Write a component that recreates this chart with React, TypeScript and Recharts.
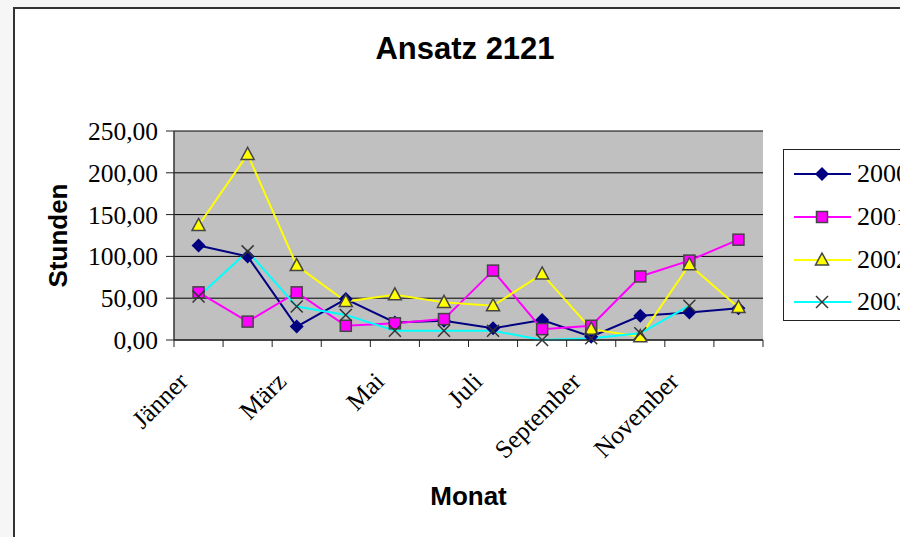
import { CartesianGrid, Line, LineChart, XAxis, YAxis } from "recharts";

const months = [
  "Jänner", "Februar", "März", "April", "Mai", "Juni",
  "Juli", "August", "September", "Oktober", "November", "Dezember",
];
const years = ["2000", "2001", "2002", "2003"];
const h2000 = [113, 100, 16, 49, 21, 23, 14, 24, 4, 29, 33, 38];
const h2001 = [57, 22, 57, 17, 20, 25, 83, 13, 17, 76, 95, 120];
const h2002 = [137, 222, 89, 46, 54, 45, 41, 79, 13, 4, 90, 39];
const h2003 = [52, 106, 40, 30, 11, 11, 11, 0, 2, 8, 41, null];
const yTicks = [0, 50, 100, 150, 200, 250];

const data = months.map((m, i) => ({
  month: m,
  y2000: h2000[i],
  y2001: h2001[i],
  y2002: h2002[i],
  y2003: h2003[i],
}));

// plot box on the page: 174..763 x 131..340
const W = 900;
const H = 537;
const Y_W = 100;
const X_H = 60;
const M = { top: 131, right: W - 763, bottom: H - 340 - X_H, left: 174 - Y_W };
const STEP = (763 - 174) / months.length;
const HALF = STEP / 2;

const SERIF = "'Liberation Serif', 'Times New Roman', serif";
const SANS = "'Liberation Sans', Arial, sans-serif";

const colors = ["#000080", "#ff00ff", "#ffff00", "#00ffff"];

const marker = (k: number, cx: number, cy: number, key?: any) => {
  if (k === 0)
    return (
      <polygon key={key} points={`${cx},${cy - 7} ${cx + 7},${cy} ${cx},${cy + 7} ${cx - 7},${cy}`} fill="#000080" />
    );
  if (k === 1)
    return (
      <rect key={key} x={cx - 5.5} y={cy - 5.5} width={11} height={11} fill="#ff00ff" stroke="#444" strokeWidth={1.5} />
    );
  if (k === 2)
    return (
      <polygon key={key} points={`${cx},${cy - 7} ${cx + 6.5},${cy + 5} ${cx - 6.5},${cy + 5}`} fill="#ffff00" stroke="#444" strokeWidth={1.5} />
    );
  return (
    <g key={key} stroke="#333" strokeWidth={1.5}>
      <line x1={cx - 6} y1={cy - 6} x2={cx + 6} y2={cy + 6} />
      <line x1={cx - 6} y1={cy + 6} x2={cx + 6} y2={cy - 6} />
    </g>
  );
};

const dotFor = (k: number) => (p: any) => {
  if (p.cy == null || p.value == null) return <g key={`d${k}-${p.index}`} />;
  return marker(k, p.cx, p.cy, `d${k}-${p.index}`);
};

const MonthTick = (props: any) => {
  const { x, y, payload } = props;
  const i = props.index ?? payload.index;
  const tx = x - 9;
  const ty = y + 43;
  return (
    <g>
      <line x1={x - HALF} y1={y} x2={x - HALF} y2={y + 7} stroke="#222" />
      {i === months.length - 1 && <line x1={x + HALF} y1={y} x2={x + HALF} y2={y + 7} stroke="#222" />}
      {i % 2 === 0 && (
        <text x={tx} y={ty} transform={`rotate(-45 ${tx} ${ty})`} textAnchor="end" fontFamily={SERIF} fontSize={25.5} fill="#000">
          {payload.value}
        </text>
      )}
    </g>
  );
};

const fmt = (v: number) => v.toFixed(2).replace(".", ",");

const LegendBox = () => (
  <div
    style={{
      position: "absolute",
      left: 783,
      top: 149,
      width: 160,
      height: 172,
      border: "1.5px solid #222",
      background: "#fff",
      boxSizing: "border-box",
      paddingTop: 3,
    }}
  >
    {years.map((y, k) => (
      <div key={y} style={{ height: 42.7, display: "flex", alignItems: "center" }}>
        <svg width={70} height={20} style={{ marginLeft: 8 }}>
          <line x1={2} y1={10} x2={59} y2={10} stroke={colors[k]} strokeWidth={2} />
          {marker(k, 30, 10)}
        </svg>
        <span style={{ fontFamily: SERIF, fontSize: 26, color: "#000", marginLeft: -5 }}>{y}</span>
      </div>
    ))}
  </div>
);

export default function App() {
  const keys = ["y2000", "y2001", "y2002", "y2003"];
  return (
    <div style={{ position: "fixed", left: 0, top: 0, width: W, height: H, overflow: "hidden", background: "#f6f6f6" }}>
      <div
        style={{
          position: "absolute",
          left: 13,
          top: 7,
          width: W,
          height: H,
          borderLeft: "2.5px solid #333",
          borderTop: "2.5px solid #333",
          background: "#fff",
        }}
      />
      <div
        style={{
          position: "absolute",
          left: 365,
          top: 33,
          width: 200,
          textAlign: "center",
          fontFamily: SANS,
          fontWeight: "bold",
          fontSize: 31,
          lineHeight: "31px",
          color: "#000",
        }}
      >
        Ansatz 2121
      </div>
      <div style={{ position: "absolute", left: 0, top: 0 }}>
        <LineChart width={W} height={H} data={data} margin={M}>
          <CartesianGrid fill="#c0c0c0" stroke="#000" vertical={false} strokeOpacity={1} />
          <XAxis
            dataKey="month"
            interval={0}
            height={X_H}
            padding={{ left: HALF, right: HALF }}
            tickLine={false}
            tickSize={0}
            tickMargin={0}
            tick={<MonthTick />}
            axisLine={{ stroke: "#333", strokeWidth: 1.5 }}
            label={{
              content: (p: any) => (
                <text
                  x={p.viewBox.x + p.viewBox.width / 2}
                  y={p.viewBox.y + 165}
                  textAnchor="middle"
                  fontFamily={SANS}
                  fontWeight="bold"
                  fontSize={26}
                  fill="#000"
                >
                  Monat
                </text>
              ),
            }}
          />
          <XAxis xAxisId="top" dataKey="month" orientation="top" height={0} tick={false} tickLine={false} axisLine={{ stroke: "#808080", strokeWidth: 2 }} />
          <YAxis
            domain={[0, 250]}
            ticks={yTicks}
            width={Y_W}
            tickSize={8}
            tickMargin={8}
            tickFormatter={fmt}
            tick={{ fontFamily: SERIF, fontSize: 25.5, fill: "#000" }}
            tickLine={{ stroke: "#222" }}
            axisLine={{ stroke: "#333", strokeWidth: 1.5 }}
            label={{
              content: (p: any) => {
                const x = p.viewBox.x - 7;
                const y = p.viewBox.y + p.viewBox.height / 2;
                return (
                  <text
                    x={x}
                    y={y}
                    transform={`rotate(-90 ${x} ${y})`}
                    textAnchor="middle"
                    fontFamily={SANS}
                    fontWeight="bold"
                    fontSize={26}
                    fill="#000"
                  >
                    Stunden
                  </text>
                );
              },
            }}
          />
          <YAxis yAxisId="right" orientation="right" width={0} tick={false} tickLine={false} axisLine={{ stroke: "#808080", strokeWidth: 2 }} />
          {keys.map((k, i) => (
            <Line
              key={k}
              dataKey={k}
              type="linear"
              stroke={colors[i]}
              strokeWidth={2}
              dot={dotFor(i)}
              activeDot={false}
              isAnimationActive={false}
            />
          ))}
        </LineChart>
      </div>
      <LegendBox />
    </div>
  );
}
